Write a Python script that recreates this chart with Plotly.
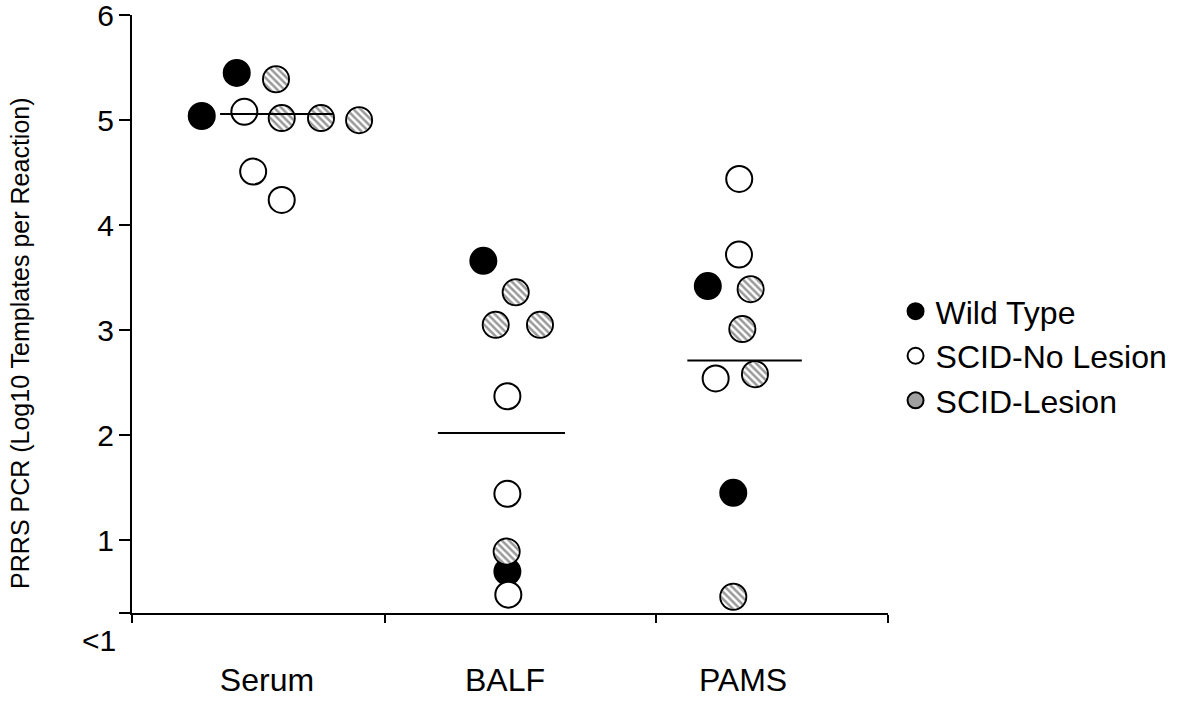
import numpy as np
import plotly.graph_objects as go

# ---------------- data ----------------
categories = ["Serum", "BALF", "PAMS"]
category_pos = [1, 2, 3]
boundary_ticks = [0.433, 1.496, 2.634, 3.609]

y_ticks = [1, 2, 3, 4, 5, 6]
y_tick_labels = ["1", "2", "3", "4", "5", "6"]
below_label = "<1"

# Wild Type
wt_x = [0.726, 0.873, 1.909, 2.010, 2.852, 2.959]
wt_y = [5.04, 5.45, 3.66, 0.70, 3.42, 1.45]
# SCID-No Lesion
nolesion_x = [0.905, 0.942, 1.062, 2.010, 2.010, 2.014, 2.984, 2.983, 2.885]
nolesion_y = [5.08, 4.51, 4.24, 2.37, 1.44, 0.48, 4.44, 3.72, 2.54]
# SCID-Lesion
lesion_x = [1.038, 1.062, 1.227, 1.387, 2.045, 1.961, 2.147, 2.007, 3.032, 2.997, 3.050, 2.959]
lesion_y = [5.39, 5.02, 5.02, 5.00, 3.36, 3.05, 3.05, 0.89, 3.39, 3.01, 2.58, 0.46]
# group mean lines
mean_x0 = [0.803, 1.718, 2.766]
mean_x1 = [1.277, 2.252, 3.247]
mean_y = [5.06, 2.02, 2.71]

# ---------------- layout constants ----------------
W, H = 1183, 702
ML, MR, MT, MB = 132, 295, 15, 89
XR = [0.433, 3.609]
YR = [0.305, 6.002]
FONT = "Liberation Sans, Arial, sans-serif"
MSIZE = 26
MLINE = 2

px_per_x = (W - ML - MR) / (XR[1] - XR[0])
px_per_y = (H - MT - MB) / (YR[1] - YR[0])
r_in = MSIZE / 2 - MLINE / 2
rx = r_in / px_per_x
ry = r_in / px_per_y
theta = np.linspace(0, 2 * np.pi, 48)

fig = go.Figure()

fig.add_trace(go.Scatter(
    x=wt_x, y=wt_y, mode="markers", name="Wild Type", legendrank=1,
    marker=dict(symbol="circle", size=MSIZE, color="black",
                line=dict(color="black", width=MLINE)),
    cliponaxis=False))

fig.add_trace(go.Scatter(
    x=lesion_x, y=lesion_y, mode="markers", name="SCID-Lesion", legendrank=3,
    marker=dict(symbol="circle", size=MSIZE, color="#a0a0a0",
                line=dict(color="black", width=MLINE)),
    cliponaxis=False))

# hatched interiors of the SCID-Lesion markers
for cx, cy in zip(lesion_x, lesion_y):
    fig.add_trace(go.Scatter(
        x=cx + rx * np.cos(theta), y=cy + ry * np.sin(theta),
        mode="none", fill="toself", fillcolor="white",
        fillpattern=dict(shape="\\", fgcolor="#333333", bgcolor="white",
                         size=5, solidity=0.5),
        showlegend=False, hoverinfo="skip"))

fig.add_trace(go.Scatter(
    x=nolesion_x, y=nolesion_y, mode="markers", name="SCID-No Lesion", legendrank=2,
    marker=dict(symbol="circle", size=MSIZE, color="white",
                line=dict(color="black", width=MLINE)),
    cliponaxis=False))

mx, my = [], []
for a, b, v in zip(mean_x0, mean_x1, mean_y):
    mx += [a, b, None]
    my += [v, v, None]
fig.add_trace(go.Scatter(x=mx, y=my, mode="lines", line=dict(color="black", width=2),
                         showlegend=False, hoverinfo="skip"))

PW = W - ML - MR
PH = H - MT - MB

fig.update_layout(
    width=W, height=H,
    margin=dict(l=ML, r=MR, t=MT, b=MB, autoexpand=False),
    paper_bgcolor="white", plot_bgcolor="white",
    font=dict(family=FONT, color="black"),
    showlegend=True,
    legend=dict(x=1.01, y=0.43, xanchor="left", yanchor="middle",
                font=dict(size=32, family=FONT), bgcolor="rgba(0,0,0,0)",
                itemsizing="trace"),
    xaxis=dict(range=XR, showline=True, linecolor="black", linewidth=2,
               tickmode="array", tickvals=category_pos, ticktext=categories,
               ticks="", ticklabelstandoff=38,
               tickfont=dict(size=32, family=FONT),
               showgrid=False, zeroline=False,
               minor=dict(tickmode="array", tickvals=boundary_ticks, ticks="outside",
                          ticklen=8, tickwidth=2, tickcolor="black", showgrid=False)),
    yaxis=dict(range=YR, showline=True, linecolor="black", linewidth=2,
               tickmode="array", tickvals=y_ticks, ticktext=y_tick_labels,
               ticks="outside", ticklen=11, tickwidth=2, tickcolor="black",
               ticklabelstandoff=-1, ticklabeloverflow="allow",
               tickfont=dict(size=30, family=FONT),
               showgrid=False, zeroline=False,
               minor=dict(tickmode="array", tickvals=[YR[0]], ticks="outside",
                          ticklen=11, tickwidth=2, tickcolor="black", showgrid=False)),
    annotations=[
        dict(text="PRRS PCR (Log10 Templates per Reaction)", textangle=-90,
             xref="paper", yref="paper", x=(20 - ML) / PW, y=0.45,
             xanchor="center", yanchor="middle", showarrow=False,
             font=dict(size=25, family=FONT)),
        dict(text=below_label, xref="paper", yref="paper",
             x=(118 - ML) / PW, y=(H - MB - 640) / PH,
             xanchor="right", yanchor="middle", showarrow=False,
             font=dict(size=30, family=FONT)),
    ],
)

fig.write_html("out.html")
